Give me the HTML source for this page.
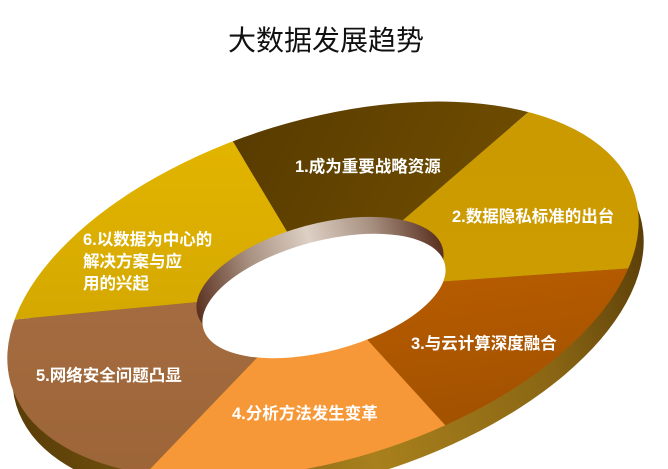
<!DOCTYPE html>
<html><head><meta charset="utf-8"><style>
html,body{margin:0;padding:0;background:#fff;width:668px;height:469px;overflow:hidden}
svg{display:block;overflow:hidden}
</style></head><body>
<svg width="668" height="469" viewBox="0 0 668 469" xmlns="http://www.w3.org/2000/svg" font-family="Liberation Sans, Noto Sans CJK SC, sans-serif">
<defs>
<clipPath id="frame"><rect x="0" y="0" width="668" height="469"/></clipPath>
<clipPath id="top"><ellipse cx="0" cy="0" rx="326" ry="170" transform="translate(323,290) rotate(-17)"/></clipPath>
<linearGradient id="side" x1="0" y1="0" x2="1" y2="0">
<stop offset="0" stop-color="#5a3e08"/><stop offset="0.5" stop-color="#a8801c"/><stop offset="0.8" stop-color="#8a6614"/><stop offset="1" stop-color="#5a3e08"/></linearGradient>
<linearGradient id="wall" x1="0" y1="0" x2="1" y2="0">
<stop offset="0" stop-color="#5a3020"/><stop offset="0.25" stop-color="#a89080"/><stop offset="0.5" stop-color="#ddd0c4"/><stop offset="0.75" stop-color="#a89080"/><stop offset="1" stop-color="#5a3020"/></linearGradient>
<linearGradient id="g1" x1="0" y1="0" x2="1" y2="0.3"><stop offset="0" stop-color="#3e2800"/><stop offset="1" stop-color="#845c00"/></linearGradient>
<linearGradient id="g2" x1="0" y1="0" x2="0" y2="1"><stop offset="0" stop-color="#c89600"/><stop offset="1" stop-color="#cc9c00"/></linearGradient>
<linearGradient id="g3" x1="0" y1="0" x2="0.3" y2="1"><stop offset="0" stop-color="#c06000"/><stop offset="1" stop-color="#7a3e00"/></linearGradient>
<linearGradient id="g6" x1="0" y1="0" x2="0" y2="1"><stop offset="0" stop-color="#f8c800"/><stop offset="1" stop-color="#d0a400"/></linearGradient>
<linearGradient id="g5" x1="0" y1="0" x2="0" y2="1"><stop offset="0" stop-color="#a46c40"/><stop offset="1" stop-color="#8e5828"/></linearGradient>
</defs>
<g clip-path="url(#frame)">
<text x="326" y="50" text-anchor="middle" font-size="28" fill="#111">大数据发展趋势</text>
<ellipse cx="0" cy="0" rx="326" ry="170" transform="translate(328,310) rotate(-17)" fill="url(#side)"/>
<g clip-path="url(#top)">
<polygon points="322,290 61,-145 931,-235" fill="url(#g1)"/>
<polygon points="322,290 931,-235 1261,224" fill="url(#g2)"/>
<polygon points="322,290 1261,224 691,695" fill="url(#g3)"/>
<polygon points="322,290 691,695 -194,827" fill="#f79838"/>
<polygon points="322,290 -194,827 -614,380" fill="url(#g5)"/>
<polygon points="322,290 -614,380 61,-145" fill="url(#g6)"/>
</g>
<ellipse cx="0" cy="0" rx="127" ry="57" transform="translate(320,281) rotate(-15)" fill="url(#wall)"/>
<ellipse cx="0" cy="0" rx="125" ry="55" transform="translate(324,296) rotate(-15)" fill="#fff"/>
<g fill="#fff" font-size="16.5" font-weight="bold">
<text x="295" y="172">1.成为重要战略资源</text>
<text x="452" y="222">2.数据隐私标准的出台</text>
<text x="411" y="349">3.与云计算深度融合</text>
<text x="232" y="419">4.分析方法发生变革</text>
<text x="36" y="381">5.网络安全问题凸显</text>
<text x="83" y="245">6.以数据为中心的</text>
<text x="83" y="267">解决方案与应</text>
<text x="83" y="289">用的兴起</text>
</g>
</g>
</svg>
</body></html>
